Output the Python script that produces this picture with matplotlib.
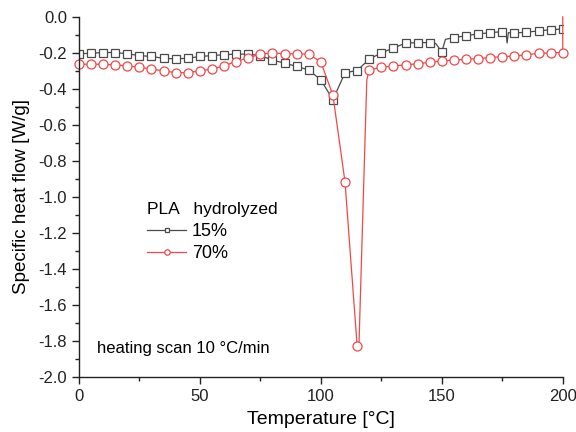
import numpy as np
import matplotlib
matplotlib.use("Agg")
import matplotlib.pyplot as plt
from matplotlib.ticker import MultipleLocator, FormatStrFormatter


# --------------------------------
# Data
# --------------------------------

# 15 % hydrolyzed (grey squares)
t15 = [0, 5, 10, 15, 20, 25, 30, 35, 40, 45, 50, 55, 60, 65, 70, 75, 80, 85,
       90, 95, 100, 105, 110, 115, 120, 125, 130, 135, 140, 145, 147.5, 150,
       151.5, 155, 160, 165, 170, 175, 176.5, 177, 177.5, 180, 185, 190, 195,
       200]
y15 = [-0.205, -0.202, -0.198, -0.198, -0.205, -0.215, -0.220, -0.230, -0.233,
       -0.230, -0.220, -0.215, -0.210, -0.207, -0.207, -0.215, -0.240, -0.257,
       -0.275, -0.295, -0.350, -0.460, -0.310, -0.298, -0.235, -0.200, -0.173,
       -0.146, -0.143, -0.143, -0.148, -0.194, -0.125, -0.115, -0.105, -0.095,
       -0.088, -0.082, -0.083, -0.145, -0.088, -0.090, -0.085, -0.078, -0.072,
       -0.067]

# 70 % hydrolyzed (red circles)
t70 = [0, 5, 10, 15, 20, 25, 30, 35, 40, 45, 50, 55, 60, 65, 70, 75, 80, 85,
       90, 95, 100, 105, 110, 115, 115.7, 119, 120, 125, 130, 135, 140, 145,
       150, 155, 160, 165, 170, 175, 180, 185, 190, 195, 200, 200]
y70 = [-0.263, -0.263, -0.263, -0.267, -0.272, -0.280, -0.290, -0.300, -0.310,
       -0.310, -0.300, -0.290, -0.272, -0.248, -0.228, -0.207, -0.200, -0.205,
       -0.205, -0.207, -0.250, -0.435, -0.917, -1.825, -1.850, -0.350, -0.295,
       -0.280, -0.272, -0.267, -0.260, -0.252, -0.245, -0.240, -0.236, -0.232,
       -0.226, -0.221, -0.217, -0.210, -0.203, -0.200, -0.198, 0.0]


def marker_idx(t):
    # markers only on the 5 degree grid, once per temperature
    seen, idx = set(), []
    for i, v in enumerate(t):
        if v % 5 == 0 and v not in seen:
            idx.append(i)
            seen.add(v)
    return idx


# --------------------------------
# Plot
# --------------------------------

plt.rcParams["font.family"] = ["Liberation Sans", "DejaVu Sans"]
plt.rcParams["axes.unicode_minus"] = False

fig = plt.figure(figsize=(5.76, 4.32), dpi=100)
ax = fig.add_axes([0.137, 0.127, 0.840, 0.834])

ax.plot(t15, y15, color="#4a4a4a", lw=0.9, marker="s", ms=6, mfc="white",
        mec="#4a4a4a", mew=0.9, markevery=marker_idx(t15), label="15%")
ax.plot(t70, y70, color="#f04848", lw=0.9, marker="o", ms=6.5, mfc="white",
        mec="#f04848", mew=0.9, markevery=marker_idx(t70), label="70%",
        clip_on=False)

ax.set_xlim(0, 200)
ax.set_ylim(-2.0, 0.0)
ax.xaxis.set_major_locator(MultipleLocator(50))
ax.xaxis.set_minor_locator(MultipleLocator(25))
ax.yaxis.set_major_locator(MultipleLocator(0.2))
ax.yaxis.set_minor_locator(MultipleLocator(0.1))
ax.yaxis.set_major_formatter(FormatStrFormatter("%.1f"))

for side in ("top", "right"):
    ax.spines[side].set_visible(False)
for side in ("left", "bottom"):
    ax.spines[side].set_linewidth(1.0)
    ax.spines[side].set_color("#222222")

ax.tick_params(which="major", direction="out", length=5, width=1,
               labelsize=12, colors="#222222")
ax.tick_params(which="minor", direction="out", length=3, width=1,
               colors="#222222")

ax.set_xlabel("Temperature [°C]", fontsize=14, labelpad=5)
ax.set_ylabel("Specific heat flow [W/g]", fontsize=13.5, labelpad=6)

leg = ax.legend(title="PLA   hydrolyzed", loc="upper left",
                bbox_to_anchor=(0.14, 0.485), frameon=False, fontsize=13,
                title_fontsize=12.5, handlelength=2.2, handletextpad=0.3,
                markerscale=0.6, borderpad=0, borderaxespad=0,
                labelspacing=0.3)
leg._legend_box.align = "left"
leg._legend_box.sep = 4

ax.text(0.037, 0.08, "heating scan 10 °C/min", transform=ax.transAxes,
        fontsize=12, va="center", ha="left")

fig.savefig("out.png", dpi=100)
